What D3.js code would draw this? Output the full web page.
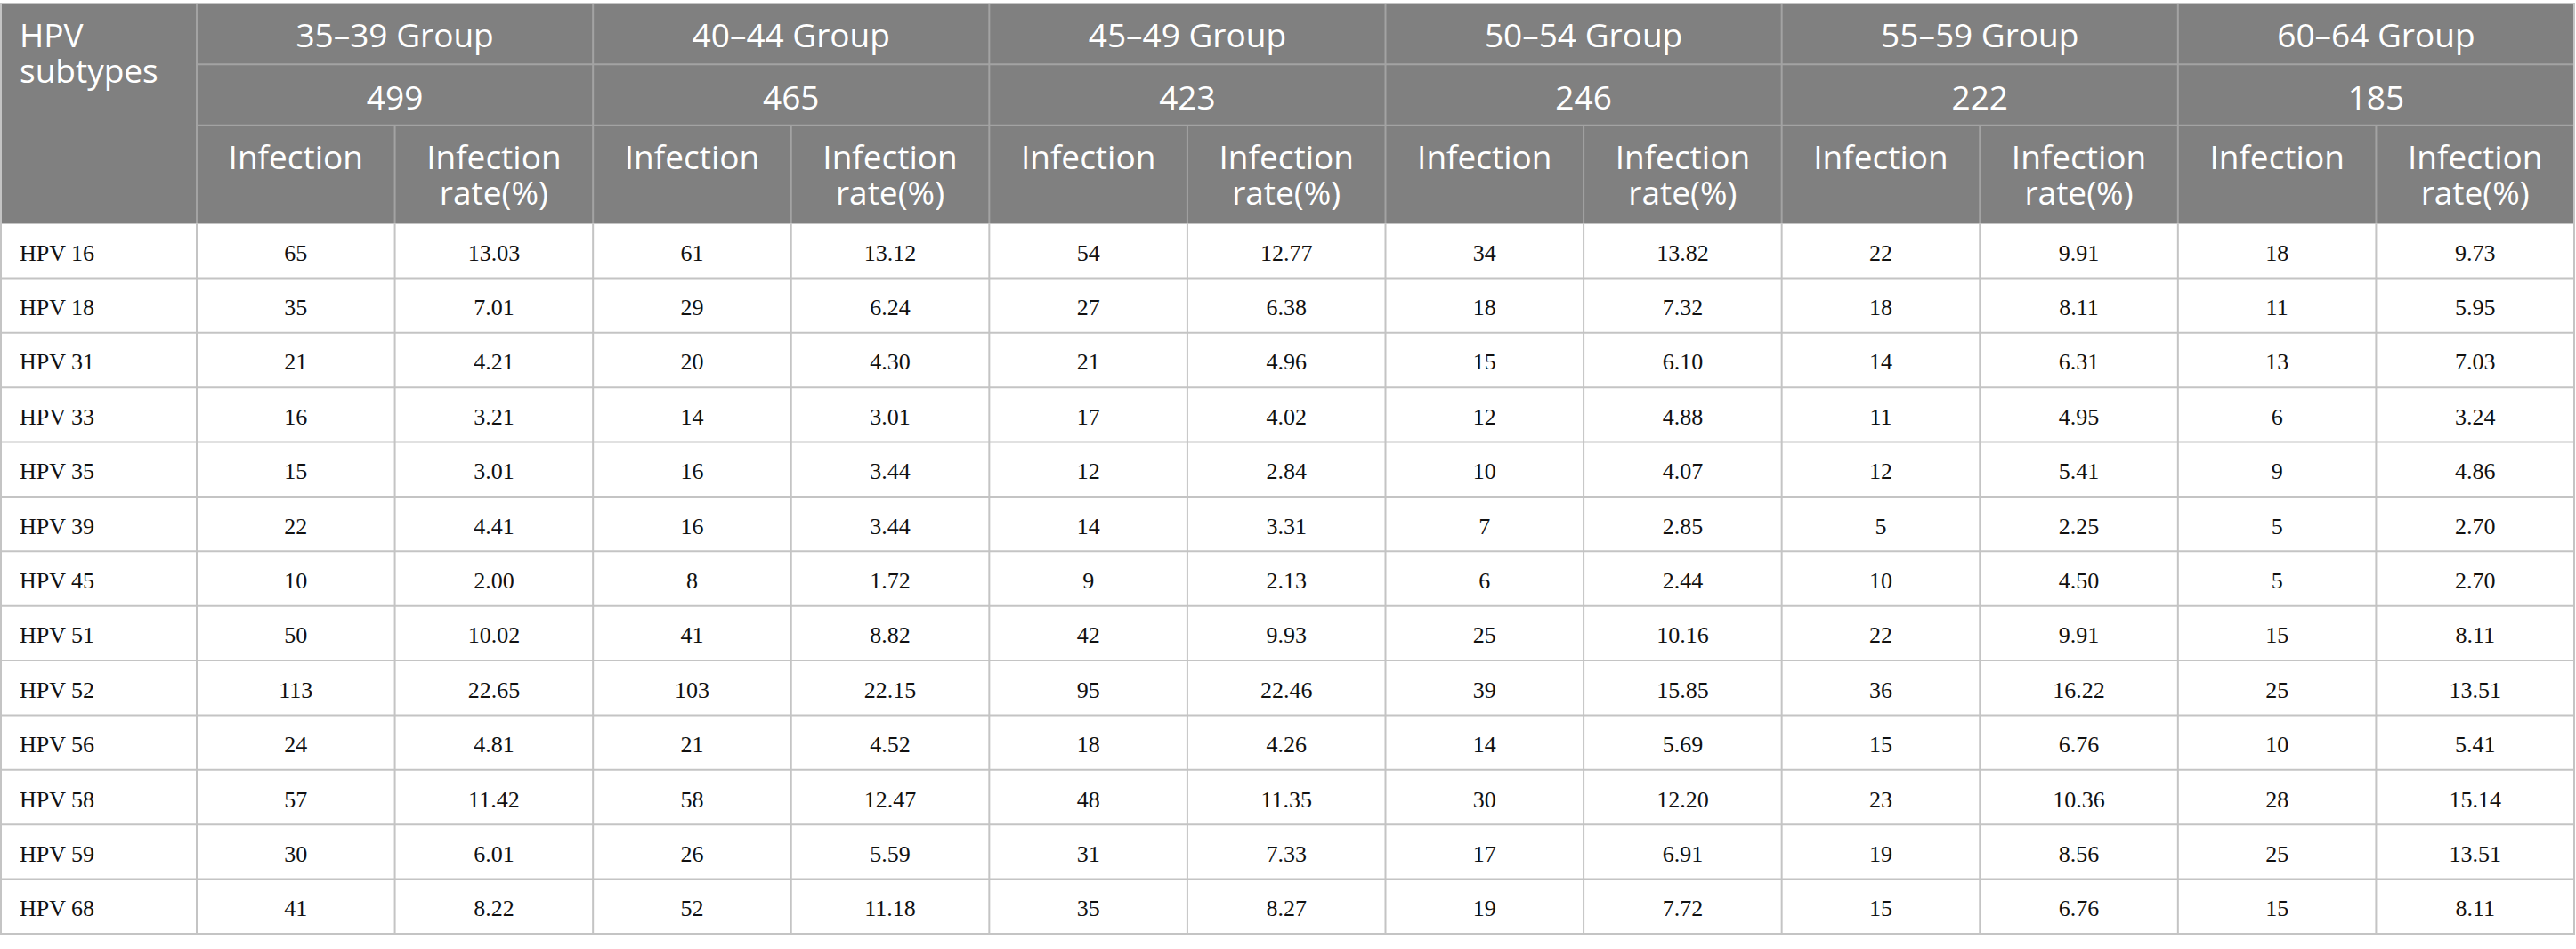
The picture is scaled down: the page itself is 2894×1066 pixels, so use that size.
<!DOCTYPE html>
<html>
<head>
<meta charset="utf-8">
<script src="https://cdn.jsdelivr.net/npm/d3@7"></script>
<style>
  html, body { margin: 0; padding: 0; background: #fff; }
  svg { display: block; }
</style>
</head>
<body>
<div id="table"></div>
<script>
const subtypes = ["HPV 16", "HPV 18", "HPV 31", "HPV 33", "HPV 35", "HPV 39", "HPV 45",
  "HPV 51", "HPV 52", "HPV 56", "HPV 58", "HPV 59", "HPV 68"];
const groups = ["35–39 Group", "40–44 Group", "45–49 Group", "50–54 Group", "55–59 Group", "60–64 Group"];
const groupTotals = [499, 465, 423, 246, 222, 185];
const subHeads = [["Infection"], ["Infection", "rate(%)"]];
const cornerHead = ["HPV", "subtypes"];

// infections[row][group]
const infections = [
  [65, 61, 54, 34, 22, 18],
  [35, 29, 27, 18, 18, 11],
  [21, 20, 21, 15, 14, 13],
  [16, 14, 17, 12, 11, 6],
  [15, 16, 12, 10, 12, 9],
  [22, 16, 14, 7, 5, 5],
  [10, 8, 9, 6, 10, 5],
  [50, 41, 42, 25, 22, 15],
  [113, 103, 95, 39, 36, 25],
  [24, 21, 18, 14, 15, 10],
  [57, 58, 48, 30, 23, 28],
  [30, 26, 31, 17, 19, 25],
  [41, 52, 35, 19, 15, 15]
];
// rates[row][group], %
const rates = [
  [13.03, 13.12, 12.77, 13.82, 9.91, 9.73],
  [7.01, 6.24, 6.38, 7.32, 8.11, 5.95],
  [4.21, 4.30, 4.96, 6.10, 6.31, 7.03],
  [3.21, 3.01, 4.02, 4.88, 4.95, 3.24],
  [3.01, 3.44, 2.84, 4.07, 5.41, 4.86],
  [4.41, 3.44, 3.31, 2.85, 2.25, 2.70],
  [2.00, 1.72, 2.13, 2.44, 4.50, 2.70],
  [10.02, 8.82, 9.93, 10.16, 9.91, 8.11],
  [22.65, 22.15, 22.46, 15.85, 16.22, 13.51],
  [4.81, 4.52, 4.26, 5.69, 6.76, 5.41],
  [11.42, 12.47, 11.35, 12.20, 10.36, 15.14],
  [6.01, 5.59, 7.33, 6.91, 8.56, 13.51],
  [8.22, 11.18, 8.27, 7.72, 6.76, 8.11]
];

const W = 2894, H = 1066;
const xLeft = 1, firstW = 220, xRight = 2892;
const yTop = 4, row1 = 72.3, row2 = 140.7, headBottom = 251, yBottom = 1049;
const lineStep = 40;

const headFill = "#808080",
  headLine = "#a3a3a3",
  bodyLine = "#c4c4c4",
  headFont = "'Open Sans', 'Noto Sans', sans-serif",
  bodyFont = "'Liberation Serif', 'Times New Roman', serif";

// column index 0..12 for data columns
const x = d3.scaleLinear()
  .domain([0, groups.length * 2])
  .range([xLeft + firstW, xRight]);
const y = d3.scaleBand()
  .domain(subtypes)
  .range([headBottom, yBottom]);
const fmt = d3.format(".2f");

const svg = d3.select("#table")
  .append("svg")
  .attr("width", W)
  .attr("height", H);

// header background
svg.append("rect")
  .attr("x", xLeft).attr("y", yTop)
  .attr("width", xRight - xLeft).attr("height", headBottom - yTop)
  .attr("fill", headFill);

const head = svg.append("g")
  .attr("font-family", headFont)
  .attr("font-size", 37)
  .attr("fill", "#fff");

// first column header, one text per line
head.selectAll(".corner")
  .data(cornerHead)
  .join("text")
  .attr("class", "corner")
  .attr("x", xLeft + 21)
  .attr("y", (d, i) => 53.3 + i * lineStep)
  .text(d => d);

// group names and totals
head.selectAll(".grp")
  .data(groups)
  .join("text")
  .attr("class", "grp")
  .attr("text-anchor", "middle")
  .attr("x", (d, i) => x(i * 2 + 1))
  .attr("y", 53.3)
  .text(d => d);

head.selectAll(".tot")
  .data(groupTotals)
  .join("text")
  .attr("class", "tot")
  .attr("text-anchor", "middle")
  .attr("x", (d, i) => x(i * 2 + 1))
  .attr("y", 122.7)
  .text(d => d);

// sub headers
const subLines = [];
d3.range(groups.length * 2).forEach(c => {
  subHeads[c % 2].forEach((t, i) => subLines.push({col: c, line: i, text: t}));
});
head.selectAll(".sub")
  .data(subLines)
  .join("text")
  .attr("class", "sub")
  .attr("text-anchor", "middle")
  .attr("x", d => x(d.col + 0.5))
  .attr("y", d => 190 + d.line * lineStep)
  .text(d => d.text);

// header grid lines
const hl = svg.append("g")
  .attr("stroke", headLine)
  .attr("stroke-width", 2);
hl.selectAll(".hh")
  .data([row1, row2])
  .join("line")
  .attr("x1", x(0)).attr("x2", xRight)
  .attr("y1", d => d).attr("y2", d => d);
hl.selectAll(".gv")
  .data(d3.range(groups.length + 1))
  .join("line")
  .attr("x1", i => x(i * 2)).attr("x2", i => x(i * 2))
  .attr("y1", yTop).attr("y2", headBottom);
hl.selectAll(".sv")
  .data(d3.range(groups.length))
  .join("line")
  .attr("x1", i => x(i * 2 + 1)).attr("x2", i => x(i * 2 + 1))
  .attr("y1", row2).attr("y2", headBottom);

// body cells
const rows = svg.selectAll(".row")
  .data(subtypes)
  .join("g")
  .attr("class", "row")
  .attr("transform", d => `translate(0,${y(d) + y.bandwidth() / 2 + 11})`)
  .attr("font-family", bodyFont)
  .attr("font-size", 26)
  .attr("fill", "#111");

rows.append("text")
  .attr("x", xLeft + 21)
  .text(d => d);

rows.each(function (d, r) {
  const cells = [];
  infections[r].forEach((v, g) => {
    cells.push({col: g * 2, text: String(v)});
    cells.push({col: g * 2 + 1, text: fmt(rates[r][g])});
  });
  d3.select(this).selectAll(".cell")
    .data(cells)
    .join("text")
    .attr("class", "cell")
    .attr("text-anchor", "middle")
    .attr("x", c => x(c.col + 0.5))
    .text(c => c.text);
});

// body grid lines
const bl = svg.append("g")
  .attr("stroke", bodyLine)
  .attr("stroke-width", 2);
bl.selectAll(".bh")
  .data(subtypes.slice(1))
  .join("line")
  .attr("x1", xLeft).attr("x2", xRight)
  .attr("y1", d => y(d)).attr("y2", d => y(d));
bl.selectAll(".bv")
  .data(d3.range(groups.length * 2))
  .join("line")
  .attr("x1", c => x(c)).attr("x2", c => x(c))
  .attr("y1", headBottom).attr("y2", yBottom);

// outer frame
svg.append("rect")
  .attr("x", xLeft).attr("y", yTop)
  .attr("width", xRight - xLeft).attr("height", yBottom - yTop)
  .attr("fill", "none")
  .attr("stroke", bodyLine)
  .attr("stroke-width", 2);
svg.append("line")
  .attr("x1", xLeft).attr("x2", xRight)
  .attr("y1", headBottom).attr("y2", headBottom)
  .attr("stroke", bodyLine)
  .attr("stroke-width", 2);
</script>
</body>
</html>
